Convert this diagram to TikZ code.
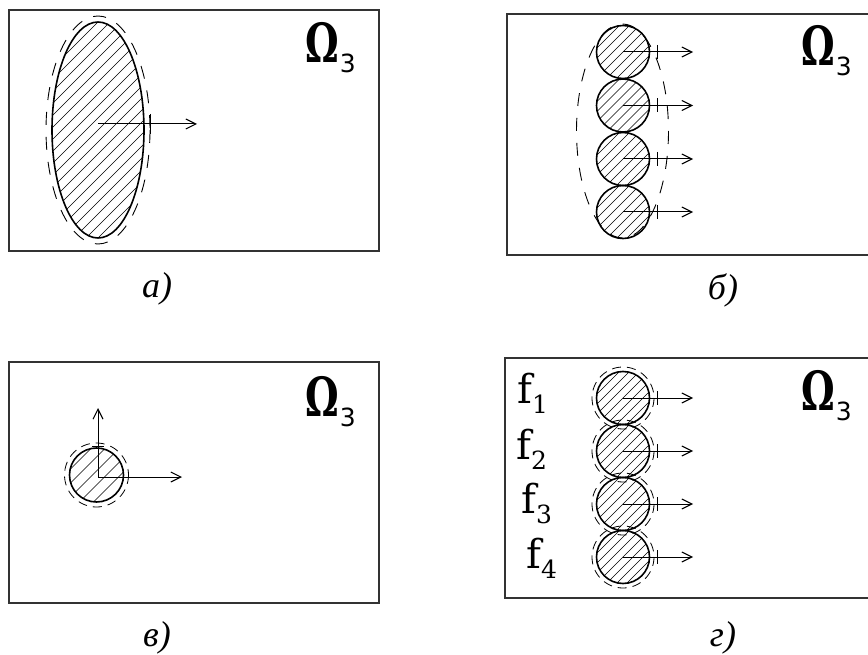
\documentclass[tikz,border=0pt]{standalone}
\usepackage{fontspec}
\usepackage{graphicx}
\setmainfont{Liberation Serif}
\newfontfamily\omfont{DejaVu Serif}
\newfontfamily\subfont{DejaVu Sans}
\newfontfamily\labfont{DejaVu Serif}
\usetikzlibrary{arrows.meta}
\newcommand\OmThree{\scalebox{0.7}[1]{\fontsize{54}{54}\omfont\bfseries Ω}\kern1pt\raisebox{-10pt}{\fontsize{25}{25}\subfont 3}}
\newcommand\fLab[1]{\fontsize{40}{40}\labfont f\raisebox{-10pt}{\fontsize{25}{25}\labfont #1}}
\begin{document}
\begin{tikzpicture}[x=1pt,y=-1pt,
  frame/.style={line width=2pt,draw=black!80},
  blob/.style={line width=1.6pt},
  halo/.style={line width=0.8pt,dash pattern=on 9pt off 6pt},
  bighalo/.style={line width=0.9pt,dash pattern=on 13pt off 12pt},
  hatchln/.style={line width=0.6pt},
  vec/.style={line width=1pt,-{Straight Barb[length=10pt,width=10pt,line width=1.1pt]}},
  tickln/.style={line width=1pt},
  ball/.style={circle,inner sep=0pt,minimum size=53pt,line width=1.6pt,draw},
  omlabel/.style={anchor=base west,inner sep=0pt},
  captxt/.style={font=\fontsize{36}{36}\selectfont\itshape,anchor=base,inner sep=0pt},
  flab/.style={anchor=base west,inner sep=0pt}
]
\useasboundingbox (0,0) rectangle (868,655);

% ---------- a) ----------
\draw[frame] (9,10) rectangle (379,251);
\coordinate (ea) at (98,130);
\begin{scope}
  \clip (ea) ellipse [x radius=46, y radius=108];
  \foreach \k in {-240,-228,...,240}
    \draw[hatchln] (98+\k-120,250) -- (98+\k+120,10);
\end{scope}
\draw[blob] (ea) ellipse [x radius=46, y radius=108];
\draw[bighalo] (ea) ellipse [x radius=52, y radius=114];
\node[inner sep=0pt] (ca) at (98,124) {};
\coordinate (ta) at (197,124);
\draw[vec] (ca.center) -- (ta);
\draw[tickln] (150,114) -- (150,134);
\node[omlabel] (oa) at (305,63) {\OmThree};
\node[captxt] (la) at (157,298) {а)};

% ---------- б) ----------
\draw[frame] (868,14) -- (507,14) -- (507,255) -- (868,255);
\foreach \n/\y in {1/52,2/105.5,3/159,4/212}{
  \begin{scope}
    \clip (623,\y) circle [radius=26.5];
    \foreach \k in {-60,-50,...,60}
      \draw[hatchln] (623+\k-30,\y+30) -- (623+\k+30,\y-30);
  \end{scope}
  \node[ball] (b\n) at (623,\y) {};
  \coordinate (tb\n) at (693,\y);
  \draw[vec] (b\n.center) -- (tb\n);
  \draw[tickln] (657,\y-7) -- (657,\y+7);
}
\draw[bighalo] (622.5,131) ellipse [x radius=46, y radius=107];
\node[omlabel] (ob) at (801,66) {\OmThree};
\node[captxt] (lb) at (723,300) {б)};

% ---------- в) ----------
\draw[frame] (9,362) rectangle (379,603);
\begin{scope}
  \clip (96.5,475) circle [radius=27];
  \foreach \k in {-60,-46,...,60}
    \draw[hatchln] (96.5+\k-30,505) -- (96.5+\k+30,445);
\end{scope}
\node[ball,minimum size=54pt] (cv) at (96.5,475) {};
\draw[halo] (cv) circle [radius=32];
\node[inner sep=0pt] (ov) at (98,477) {};
\coordinate (tvx) at (182,477);
\coordinate (tvy) at (98,408);
\draw[vec] (ov.center) -- (tvx);
\draw[vec] (ov.center) -- (tvy);
\draw[tickln] (92,446) -- (104,446);
\node[omlabel] (omv) at (305,416) {\OmThree};
\node[captxt] (lv) at (157,646) {в)};

% ---------- г) ----------
\draw[frame] (868,358) -- (505,358) -- (505,598) -- (868,598);
\foreach \n/\y in {1/398,2/451,3/504,4/557}{
  \begin{scope}
    \clip (623,\y) circle [radius=26.5];
    \foreach \k in {-60,-50,...,60}
      \draw[hatchln] (623+\k-30,\y+30) -- (623+\k+30,\y-30);
  \end{scope}
  \node[ball] (g\n) at (623,\y) {};
  \draw[halo] (g\n) circle [radius=31];
  \coordinate (tg\n) at (693,\y);
  \draw[vec] (g\n.center) -- (tg\n);
  \draw[tickln] (657,\y-7) -- (657,\y+7);
}
\node[flab] (f1) at (517,403) {\fLab{1}};
\node[flab] (f2) at (516,459) {\fLab{2}};
\node[flab] (f3) at (521,513) {\fLab{3}};
\node[flab] (f4) at (526,568) {\fLab{4}};
\node[omlabel] (og) at (801,410) {\OmThree};
\node[captxt] (lg) at (723,646) {г)};
\end{tikzpicture}
\end{document}
